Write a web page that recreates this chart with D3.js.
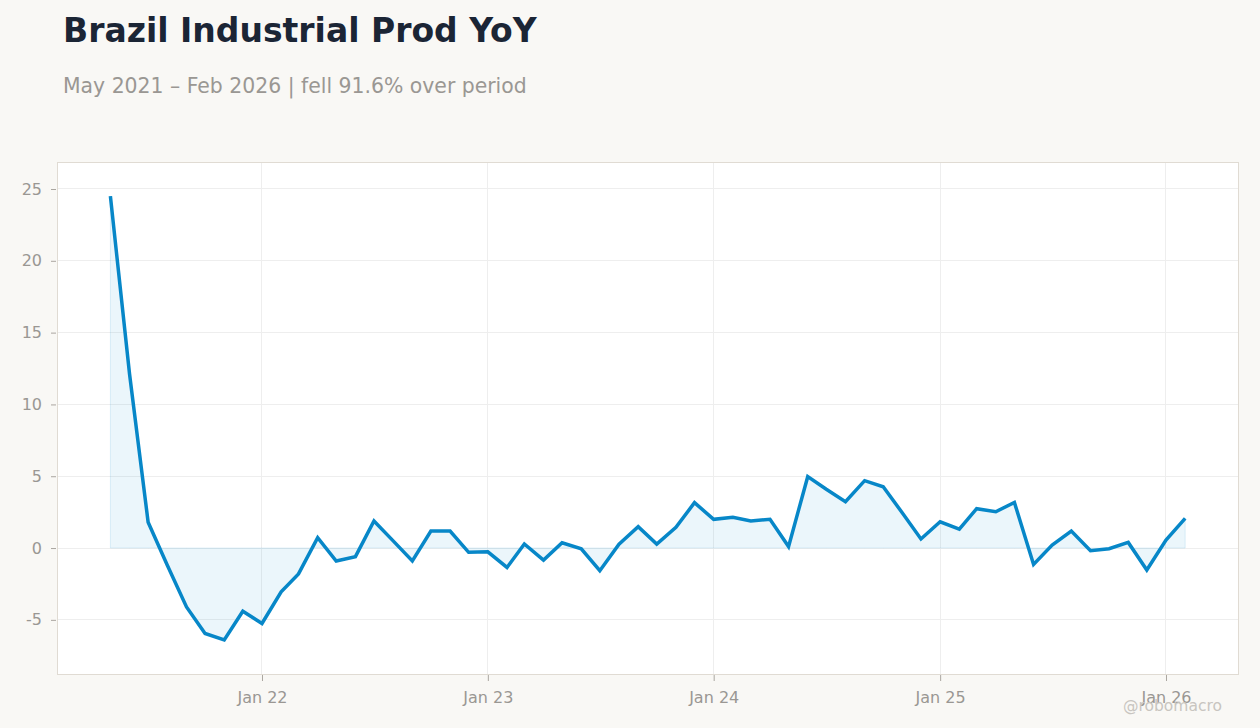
<!DOCTYPE html>
<html>
<head>
<meta charset="utf-8">
<script src="https://cdn.jsdelivr.net/npm/d3@7"></script>
<style>
  html, body { margin: 0; padding: 0; background: #f9f8f5; }
  svg { display: block; }
  text { font-family: "DejaVu Sans", sans-serif; }
</style>
</head>
<body>
<svg id="chart" width="1260" height="728"></svg>
<script>
const title = "Brazil Industrial Prod YoY";
const subtitle = "May 2021 – Feb 2026 | fell 91.6% over period";
const watermark = "@robomacro";
const startMonth = "2021-05";
const values = [
  24.5, 12.1, 1.8, -1.2, -4.1, -5.95, -6.4, -4.4, -5.25, -3.05,
  -1.8, 0.72, -0.9, -0.6, 1.88, 0.5, -0.9, 1.18, 1.18, -0.3,
  -0.26, -1.35, 0.28, -0.84, 0.37, -0.05, -1.58, 0.27, 1.49, 0.28,
  1.44, 3.16, 2.0, 2.14, 1.88, 2.0, 0.1, 4.97, 4.09, 3.23,
  4.69, 4.27, 2.44, 0.63, 1.83, 1.32, 2.74, 2.53, 3.18, -1.14,
  0.21, 1.18, -0.19, -0.05, 0.39, -1.53, 0.56, 2.06
];
const yTicks = [-5, 0, 5, 10, 15, 20, 25];
const xTickYears = [2022, 2023, 2024, 2025, 2026];

const parse = d3.timeParse("%Y-%m");
const start = parse(startMonth);
const data = values.map((v, i) => ({ date: d3.timeMonth.offset(start, i), value: v }));

const svg = d3.select("#chart");
const plot = { left: 57, top: 162, right: 1239, bottom: 675 };

const x = d3.scaleTime()
  .domain([d3.timeHour.offset(new Date(2021, 1, 3), 17), d3.timeHour.offset(new Date(2026, 3, 29), 0)])
  .range([plot.left, plot.right]);
const y = d3.scaleLinear()
  .domain([-8.84, 26.88])
  .range([plot.bottom, plot.top]);

// title
svg.append("text").attr("x", 63).attr("y", 42)
  .attr("font-size", 33).attr("font-weight", "bold").attr("fill", "#1b2535")
  .text(title);
svg.append("text").attr("x", 63).attr("y", 93)
  .attr("font-size", 20.4).attr("fill", "#9a9793")
  .text(subtitle);

// plot bg
svg.append("rect")
  .attr("x", plot.left + 0.5).attr("y", plot.top + 0.5)
  .attr("width", plot.right - plot.left - 1).attr("height", plot.bottom - plot.top - 1)
  .attr("fill", "#ffffff").attr("stroke", "#e0dbd3").attr("stroke-width", 1);

// grid
const xTicks = xTickYears.map(yr => new Date(yr, 0, 1));
svg.append("g").selectAll("line").data(yTicks).join("line")
  .attr("x1", plot.left + 1).attr("x2", plot.right - 1)
  .attr("y1", d => Math.floor(y(d)) + 0.5).attr("y2", d => Math.floor(y(d)) + 0.5)
  .attr("stroke", "#eeeeee").attr("stroke-width", 1);
svg.append("g").selectAll("line").data(xTicks).join("line")
  .attr("y1", plot.top + 1).attr("y2", plot.bottom - 1)
  .attr("x1", d => Math.floor(x(d)) + 0.5).attr("x2", d => Math.floor(x(d)) + 0.5)
  .attr("stroke", "#eeeeee").attr("stroke-width", 1);

// area
const area = d3.area()
  .x(d => x(d.date)).y0(y(0)).y1(d => y(d.value));
svg.append("path").datum(data)
  .attr("d", area)
  .attr("fill", "rgba(0,136,204,0.08)")
  .attr("stroke", "rgba(0,136,204,0.12)")
  .attr("stroke-width", 1);

// line
const line = d3.line().x(d => x(d.date)).y(d => y(d.value));
svg.append("path").datum(data)
  .attr("d", line)
  .attr("fill", "none")
  .attr("stroke", "#0787c8")
  .attr("stroke-width", 3.5)
  .attr("stroke-linejoin", "miter");

// axes
const yAxis = d3.axisLeft(y).tickValues(yTicks).tickFormat(d => String(d)).tickSize(5).tickPadding(9);
const gy = svg.append("g").attr("transform", `translate(${plot.left - 1},0)`).call(yAxis);
gy.select(".domain").remove();
gy.selectAll(".tick line").attr("stroke", "#aaa6a0");
gy.selectAll(".tick text").attr("fill", "#9a9793").attr("font-size", 16)
  .attr("font-family", "DejaVu Sans, sans-serif");

const xAxis = d3.axisBottom(x).tickValues(xTicks)
  .tickFormat(d3.timeFormat("Jan %y")).tickSize(6).tickPadding(11);
const gx = svg.append("g").attr("transform", `translate(0,${plot.bottom})`).call(xAxis);
gx.select(".domain").remove();
gx.selectAll(".tick line").attr("stroke", "#aaa6a0");
gx.selectAll(".tick text").attr("fill", "#9a9793").attr("font-size", 16)
  .attr("font-family", "DejaVu Sans, sans-serif");

// watermark
svg.append("text").attr("x", 1222).attr("y", 711)
  .attr("text-anchor", "end").attr("font-size", 15.5)
  .attr("fill", "#c8c5c0").text(watermark);
</script>
</body>
</html>
